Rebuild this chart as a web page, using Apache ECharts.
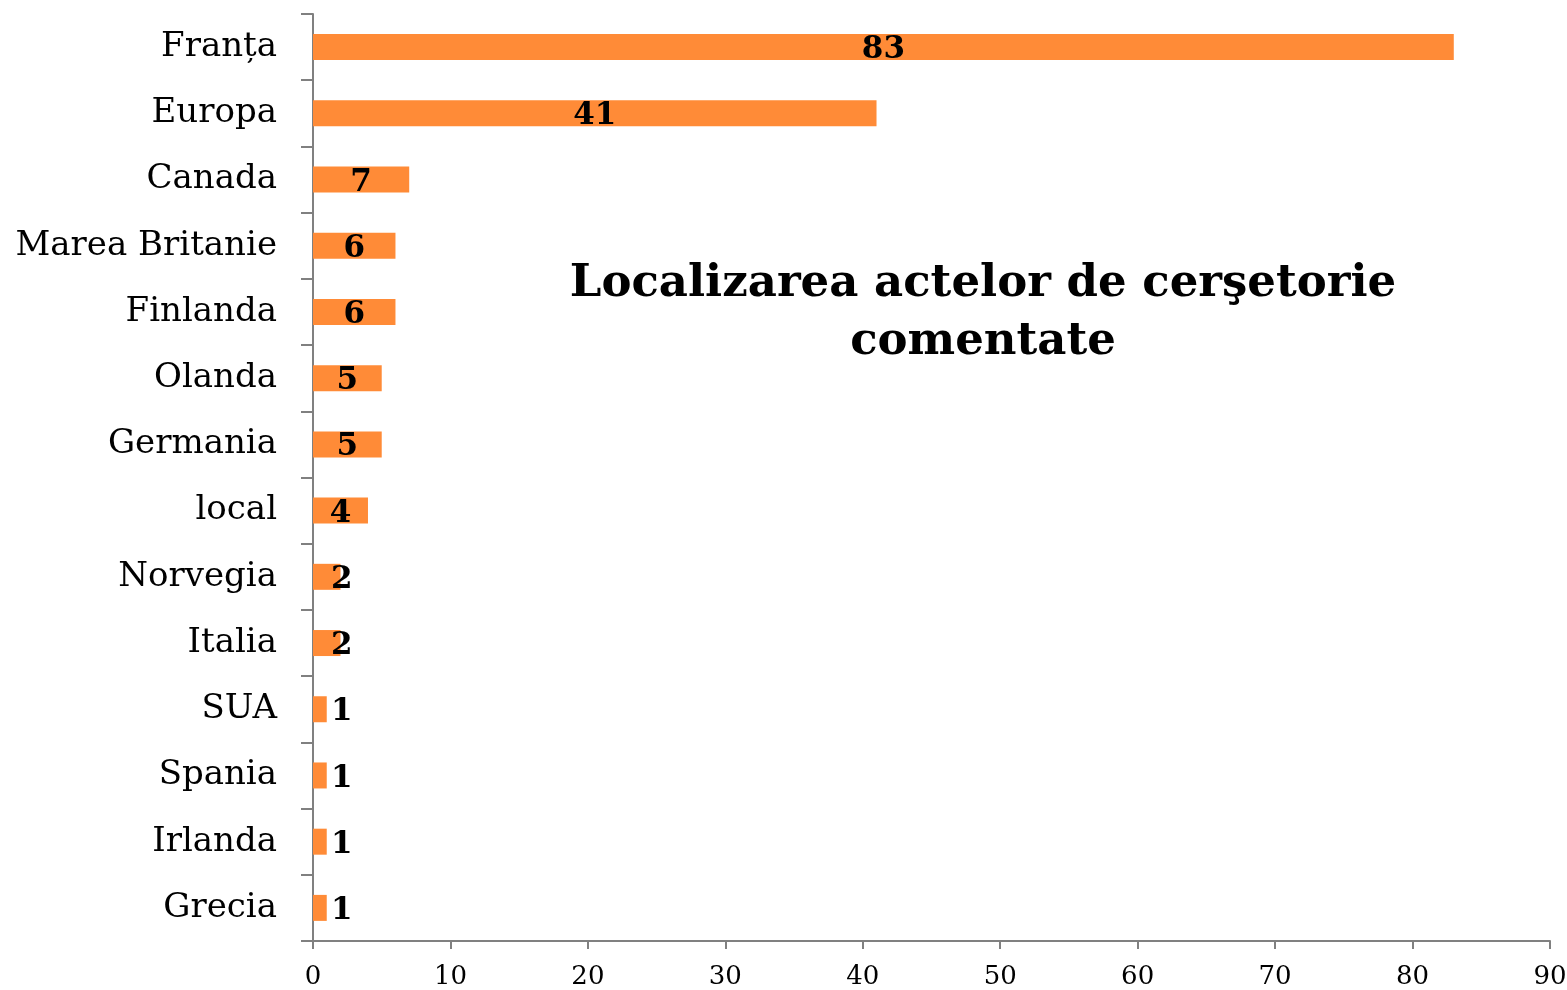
<!DOCTYPE html>
<html>
<head>
<meta charset="utf-8">
<script src="https://cdn.jsdelivr.net/npm/echarts@6/dist/echarts.min.js"></script>
<style>
  html, body { margin: 0; padding: 0; background: #fff; }
  #chart { width: 1567px; height: 990px; }
</style>
</head>
<body>
<div id="chart"></div>
<script>
// categories listed bottom-to-top (ECharts category y axis starts at bottom)
const countries = ["Grecia", "Irlanda", "Spania", "SUA", "Italia", "Norvegia", "local",
  "Germania", "Olanda", "Finlanda", "Marea Britanie", "Canada", "Europa", "Franța"];
const counts = [1, 1, 1, 1, 2, 2, 4, 5, 5, 6, 6, 7, 41, 83];

const SERIF = "'DejaVu Serif', 'Liberation Serif', serif";

const chart = echarts.init(document.getElementById("chart"));

// small bars: label sits just right of the bar start, like in Excel
const barData = counts.map((v) => (
  v <= 2
    ? { value: v, label: { position: [18, "50%"], align: "left", verticalAlign: "middle" } }
    : v
));

chart.setOption({
  backgroundColor: "#fff",
  animation: false,
  title: {
    text: "Localizarea actelor de cerşetorie\ncomentate",
    left: 978,
    top: 250,
    textAlign: "center",
    textStyle: {
      fontFamily: SERIF,
      fontWeight: "bold",
      fontSize: 45,
      lineHeight: 58,
      color: "#000",
    },
  },
  grid: { left: 313, right: 17, top: 14, bottom: 49, containLabel: false, outerBoundsMode: "none" },
  xAxis: {
    type: "value",
    min: 0,
    max: 90,
    interval: 10,
    axisLine: { show: true, lineStyle: { color: "#808080", width: 2 } },
    axisTick: { show: true, length: 8, lineStyle: { color: "#808080", width: 2 } },
    splitLine: { show: false },
    axisLabel: { fontFamily: SERIF, fontSize: 26, color: "#000", margin: 23 },
  },
  yAxis: {
    type: "category",
    data: countries,
    axisLine: { show: true, lineStyle: { color: "#808080", width: 2 } },
    axisTick: { show: true, length: 12, lineStyle: { color: "#808080", width: 2 } },
    axisLabel: { fontFamily: SERIF, fontSize: 34, color: "#000", margin: 36 },
  },
  series: [
    {
      type: "bar",
      data: barData,
      barWidth: 26,
      itemStyle: { color: "#FF8B37" },
      label: {
        show: true,
        position: "inside",
        fontFamily: SERIF,
        fontWeight: "bold",
        fontSize: 31,
        color: "#000",
        offset: [0, 3],
      },
    },
  ],
});
</script>
</body>
</html>
